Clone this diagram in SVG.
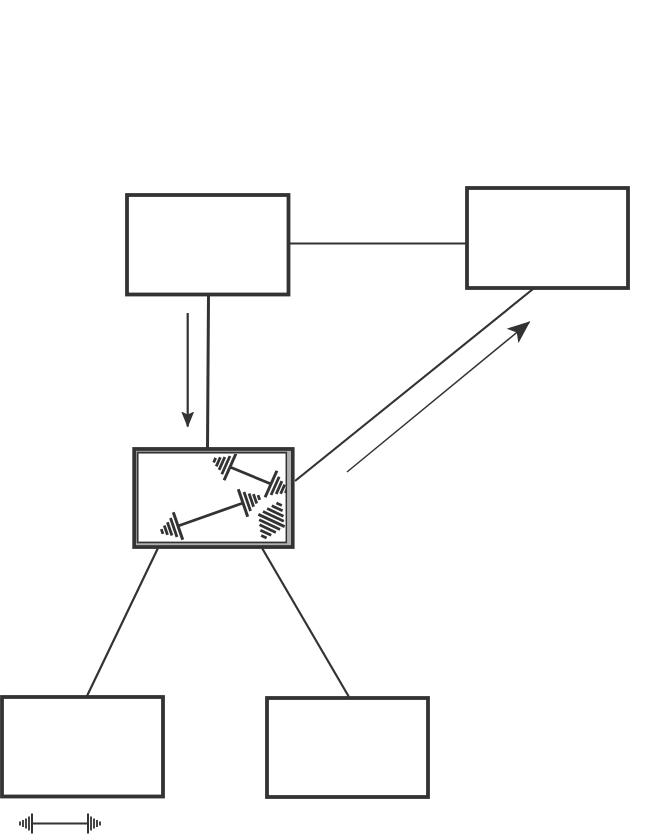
<svg xmlns="http://www.w3.org/2000/svg" width="650" height="834" viewBox="0 0 650 834">
<style>
.box{fill:#fff;stroke:#333;stroke-width:3.800}
.ln{fill:none;stroke:#333}
.h{stroke:#333;fill:none}
</style>
<defs>
<g id="head" class="h">
<path d="M0-14.500V14.500" stroke-width="3"/>
<path d="M4.500-10V10M8.800-7V7M12.800-5V5M16.800-2.500V2.500" stroke-width="2.800"/>
</g>
<g id="legend" class="h">
<path d="M0-10V10" stroke-width="2"/>
<path d="M3-7V7M6-5V5M9-3.500V3.500M12-2V2" stroke-width="1.800"/>
</g>
<marker id="arrBig" markerUnits="userSpaceOnUse" markerWidth="28" markerHeight="26" refX="22" refY="13" orient="auto"><path d="M0 3.700L23 13L0 22.300L5.500 13Z" fill="#333"/></marker>
<marker id="arrSmall" markerUnits="userSpaceOnUse" markerWidth="20" markerHeight="18" refX="15" refY="9" orient="auto"><path d="M0 2.500L16 9L0 15.500L3 9Z" fill="#333"/></marker>
</defs>
<g id="connectors">
<path class="ln" stroke-width="1.800" d="M289 243.500H467"/>
<path class="ln" stroke-width="3" d="M208.500 295L207.500 448"/>
<path class="ln" stroke-width="2.200" d="M533 289L295 481"/>
<path class="ln" stroke-width="2.200" d="M158 548L87 696"/>
<path class="ln" stroke-width="2.200" d="M262 548L349 697"/>
<path class="ln" stroke-width="1.500" d="M347 472L529.500 322" marker-end="url(#arrBig)"/>
<path class="ln" stroke-width="2.200" d="M187.700 313V426.500" marker-end="url(#arrSmall)"/>
</g>
<g id="node-top-left"><rect class="box" x="127" y="195" width="161.500" height="99.500"/></g>
<g id="node-top-right"><rect class="box" x="467" y="188" width="161" height="100"/></g>
<g id="node-bottom-left"><rect class="box" x="2" y="697" width="161" height="99.500"/></g>
<g id="node-bottom-right"><rect class="box" x="267" y="698" width="161" height="99"/></g>
<g id="node-center">
<rect x="134.200" y="449" width="158.500" height="98" fill="#fff" stroke="#333" stroke-width="3.800"/>
<g>
<path class="ln" stroke-width="2.800" d="M230 467L271 484"/>
<path class="ln" stroke-width="2.800" d="M178 526L243 503"/>
<use href="#head" transform="translate(230 467) rotate(-156)"/>
<use href="#head" transform="translate(271 484) rotate(24)"/>
<use href="#head" transform="translate(178 526) rotate(161)"/>
<use href="#head" transform="translate(243 503) rotate(-19)"/>
<path class="h" stroke-width="2.800" transform="translate(271.500 520.500) rotate(25)" d="M-3-18H3M-6-13.500H6M-9-9H9M-11.500-4.500H11.500M-14.500 0H14.500M-11.500 4.500H11.500M-9 9H9M-6 13.500H6M-3 18H3"/>
</g>
<path d="M136 451H291V545H136ZM139 454V541.500H286V454Z" fill="#b0b0b0" fill-rule="evenodd"/>
<path d="M137.500 452.500H286.300V542.500H137.500Z" fill="none" stroke="#333" stroke-width="1.500"/>
</g>
<g id="legend-key">
<path class="ln" stroke-width="2" d="M32 823.500H88"/>
<use href="#legend" transform="translate(88 823.500)"/>
<use href="#legend" transform="translate(32 823.500) rotate(180)"/>
</g>
</svg>
